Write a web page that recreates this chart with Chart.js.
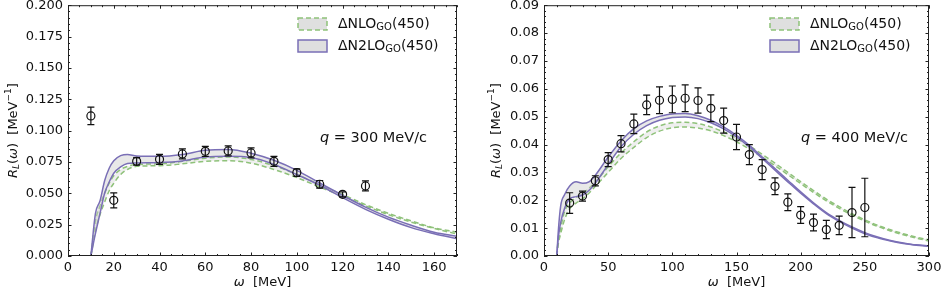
<!DOCTYPE html>
<html>
<head>
<meta charset="utf-8">
<script src="https://cdn.jsdelivr.net/npm/chart.js@4.4.1/dist/chart.umd.min.js"></script>
<style>
  body { margin: 0; background: #fff; }
  #wrap { display: flex; width: 941px; height: 293px; }
  canvas { display: block; }
</style>
</head>
<body>
<div id="wrap">
  <canvas id="left" width="470" height="293"></canvas>
  <canvas id="right" width="471" height="293"></canvas>
</div>
<script>
// ---- q = 300 MeV/c panel ----
var leftOmega = [10, 20, 30, 40, 50, 60, 70, 80, 90, 100, 110, 120, 130];
var leftRL = [0.1117, 0.0444, 0.0755, 0.0771, 0.0814, 0.0835, 0.0838, 0.0822, 0.0755, 0.0665, 0.0572, 0.0492, 0.0559];
var leftErr = [0.007, 0.006, 0.003, 0.004, 0.004, 0.004, 0.004, 0.004, 0.004, 0.003, 0.003, 0.002, 0.004];
var leftXTicks = [0, 20, 40, 60, 80, 100, 120, 140, 160];

var leftCurveX = [10, 12, 14, 16, 18, 20, 23, 26, 30, 40, 50, 60, 70, 80, 90, 100, 110, 120, 130, 140, 150, 160, 170];
var leftN2loUp = [0, 0.034, 0.044, 0.060, 0.070, 0.076, 0.080, 0.081, 0.0798, 0.0795, 0.081, 0.0843, 0.085, 0.082, 0.0763, 0.0683, 0.0582, 0.0484, 0.039, 0.031, 0.0245, 0.019, 0.0157];
var leftN2loLow = [0, 0.018, 0.034, 0.050, 0.059, 0.066, 0.071, 0.0737, 0.0742, 0.0745, 0.0758, 0.079, 0.0795, 0.0785, 0.073, 0.065, 0.0564, 0.0465, 0.0372, 0.0293, 0.0226, 0.0178, 0.0138];
var leftNloUp = [0, 0.028, 0.040, 0.050, 0.058, 0.064, 0.069, 0.0715, 0.073, 0.0735, 0.0755, 0.078, 0.079, 0.077, 0.072, 0.065, 0.057, 0.049, 0.041, 0.034, 0.028, 0.0225, 0.019];
var leftNloLow = [0, 0.020, 0.033, 0.043, 0.052, 0.058, 0.065, 0.069, 0.0715, 0.072, 0.0735, 0.0755, 0.076, 0.074, 0.069, 0.0625, 0.055, 0.0475, 0.040, 0.033, 0.027, 0.022, 0.0175];

// ---- q = 400 MeV/c panel ----
var rightOmega = [20, 30, 40, 50, 60, 70, 80, 90, 100, 110, 120, 130, 140, 150, 160, 170, 180, 190, 200, 210, 220, 230, 240, 250];
var rightRL = [0.019, 0.0215, 0.027, 0.0346, 0.0403, 0.0474, 0.0542, 0.0559, 0.0562, 0.0566, 0.0558, 0.053, 0.0486, 0.0427, 0.0364, 0.031, 0.025, 0.0193, 0.0147, 0.012, 0.0095, 0.011, 0.0156, 0.0174];
var rightErr = [0.0037, 0.0018, 0.0018, 0.0025, 0.0029, 0.0035, 0.0035, 0.0048, 0.0048, 0.0048, 0.0045, 0.0048, 0.0045, 0.0045, 0.0036, 0.0036, 0.003, 0.003, 0.003, 0.003, 0.0033, 0.0033, 0.009, 0.0105];
var rightXTicks = [0, 50, 100, 150, 200, 250, 300];

var rightCurveX = [10, 11, 13, 16, 20, 25, 30, 35, 40, 50, 60, 70, 80, 90, 100, 110, 120, 130, 140, 150, 160, 170, 180, 190, 200, 210, 220, 230, 240, 250, 260, 270, 280, 290, 300];
var rightN2loUp = [0, 0.008, 0.018, 0.022, 0.0251, 0.0266, 0.0261, 0.0266, 0.029, 0.0355, 0.0413, 0.0457, 0.0485, 0.0501, 0.051, 0.0511, 0.0503, 0.0487, 0.0463, 0.0433, 0.0397, 0.0355, 0.0314, 0.0272, 0.023, 0.0191, 0.0156, 0.0128, 0.0104, 0.0084, 0.0068, 0.0056, 0.0047, 0.004, 0.0037];
var rightN2loLow = [0, 0.006, 0.012, 0.017, 0.0205, 0.0213, 0.0219, 0.0235, 0.0262, 0.0328, 0.0392, 0.0437, 0.0468, 0.0487, 0.0497, 0.0499, 0.0493, 0.0478, 0.0456, 0.0427, 0.0391, 0.035, 0.0308, 0.0266, 0.0225, 0.0187, 0.0152, 0.0124, 0.0100, 0.008, 0.0065, 0.0054, 0.0045, 0.0039, 0.0035];
var rightNloUp = [0, 0.005, 0.010, 0.016, 0.019, 0.021, 0.0225, 0.0243, 0.0265, 0.032, 0.037, 0.041, 0.0445, 0.0467, 0.0478, 0.048, 0.0475, 0.0463, 0.0445, 0.0422, 0.0395, 0.0365, 0.0333, 0.030, 0.0267, 0.0235, 0.0204, 0.0177, 0.0152, 0.013, 0.011, 0.0094, 0.008, 0.0068, 0.0058];
var rightNloLow = [0, 0.004, 0.008, 0.013, 0.017, 0.019, 0.0205, 0.0225, 0.025, 0.030, 0.035, 0.039, 0.0425, 0.0448, 0.046, 0.0463, 0.0459, 0.0449, 0.0432, 0.041, 0.0384, 0.0355, 0.0324, 0.0292, 0.026, 0.0228, 0.0198, 0.0171, 0.0147, 0.0125, 0.0106, 0.009, 0.0076, 0.0064, 0.0054];

var legendNames = ['NLO', 'N2LO'];

var PURPLE = '#7a6fb6';
var GREEN = '#8fc27a';
var FONT = "'DejaVu Sans', sans-serif";

Chart.defaults.font.family = FONT;
Chart.defaults.font.size = 13;
Chart.defaults.color = '#111';

function pts(xs, ys) {
    return xs.map(function (x, i) { return { x: x, y: ys[i] }; });
}

function onStep(v, step) {
    return Math.abs(v / step - Math.round(v / step)) < 1e-6;
}

// draw a list of text runs (sub/superscripts, italics) starting at x
function drawRuns(ctx, runs, x, y, center) {
    var w = 0;
    runs.forEach(function (r) {
        ctx.font = (r.it ? 'italic ' : '') + (r.size || 13) + 'px ' + FONT;
        r.w = ctx.measureText(r.t).width;
        w += r.w;
    });
    var cx = center ? x - w / 2 : x;
    runs.forEach(function (r) {
        ctx.font = (r.it ? 'italic ' : '') + (r.size || 13) + 'px ' + FONT;
        ctx.fillText(r.t, cx, y + (r.dy || 0));
        cx += r.w;
    });
}

function decorPlugin(cfg) {
    return {
        id: 'decor',
        afterDatasetsDraw: function (chart) {
            var ctx = chart.ctx, xs = chart.scales.x, ys = chart.scales.y;
            ctx.save();
            ctx.strokeStyle = '#111';
            ctx.lineWidth = 1.2;
            cfg.omega.forEach(function (w, i) {
                var px = xs.getPixelForValue(w);
                var top = ys.getPixelForValue(cfg.rl[i] + cfg.err[i]);
                var bot = ys.getPixelForValue(cfg.rl[i] - cfg.err[i]);
                ctx.beginPath();
                ctx.moveTo(px, top); ctx.lineTo(px, bot);
                ctx.moveTo(px - 3.5, top); ctx.lineTo(px + 3.5, top);
                ctx.moveTo(px - 3.5, bot); ctx.lineTo(px + 3.5, bot);
                ctx.stroke();
            });
            ctx.restore();
        },
        afterDraw: function (chart) {
            var ctx = chart.ctx, a = chart.chartArea, xs = chart.scales.x, ys = chart.scales.y;
            ctx.save();
            // frame
            ctx.strokeStyle = '#222';
            ctx.lineWidth = 1;
            ctx.strokeRect(a.left + 0.5, a.top + 0.5, a.right - a.left - 1, a.bottom - a.top - 1);
            // inward ticks on all sides
            ctx.beginPath();
            var v, p, len;
            for (v = xs.min; v <= xs.max + 1e-9; v += cfg.xMinor) {
                p = Math.round(xs.getPixelForValue(v)) + 0.5;
                len = onStep(v, cfg.xMajor) ? 3.5 : 2;
                ctx.moveTo(p, a.bottom); ctx.lineTo(p, a.bottom - len);
                ctx.moveTo(p, a.top); ctx.lineTo(p, a.top + len);
            }
            for (v = ys.min; v <= ys.max + 1e-9; v += cfg.yMinor) {
                p = Math.round(ys.getPixelForValue(v)) + 0.5;
                len = onStep(v, cfg.yMajor) ? 3.5 : 2;
                ctx.moveTo(a.left, p); ctx.lineTo(a.left + len, p);
                ctx.moveTo(a.right, p); ctx.lineTo(a.right - len, p);
            }
            ctx.stroke();

            ctx.fillStyle = '#111';
            ctx.textBaseline = 'middle';
            // x title
            drawRuns(ctx, [{ t: 'ω', it: true }, { t: '  [MeV]' }], (a.left + a.right) / 2, 283, true);
            // y title
            ctx.save();
            ctx.translate(cfg.yTitleX, (a.top + a.bottom) / 2);
            ctx.rotate(-Math.PI / 2);
            drawRuns(ctx, [
                { t: 'R', it: true }, { t: 'L', it: true, size: 9, dy: 3 }, { t: '(' }, { t: 'ω', it: true },
                { t: ')  [MeV' }, { t: '−1', size: 9, dy: -5 }, { t: ']' }
            ], 0, 0, true);
            ctx.restore();

            // legend
            var lx = a.right - 159;
            [24, 46].forEach(function (cy, i) {
                ctx.fillStyle = 'rgba(210,210,210,0.7)';
                ctx.fillRect(lx, cy - 6, 29, 12);
                ctx.lineWidth = 1.5;
                if (i === 0) {
                    ctx.strokeStyle = GREEN;
                    ctx.setLineDash([5, 3]);
                } else {
                    ctx.strokeStyle = PURPLE;
                    ctx.setLineDash([]);
                }
                ctx.strokeRect(lx, cy - 6, 29, 12);
                ctx.setLineDash([]);
                ctx.fillStyle = '#111';
                drawRuns(ctx, [{ t: 'Δ' + legendNames[i], size: 14 }, { t: 'GO', size: 10, dy: 3 }, { t: '(450)', size: 14 }], lx + 40, cy, false);
            });

            // q label
            drawRuns(ctx, [{ t: 'q', it: true, size: 14.5 }, { t: ' = ' + cfg.q + ' MeV/c', size: 14.5 }], cfg.qX, 138, false);
            ctx.restore();
        }
    };
}

function makePanel(id, cfg) {
    var ctx = document.getElementById(id);
    new Chart(ctx, {
        type: 'line',
        data: {
            datasets: [
                {
                    type: 'scatter',
                    data: pts(cfg.omega, cfg.rl),
                    pointStyle: 'circle',
                    pointRadius: 4,
                    pointBorderWidth: 1.2,
                    pointBorderColor: '#111',
                    pointBackgroundColor: 'rgba(255,255,255,0)',
                    showLine: false
                },
                {
                    data: pts(cfg.cx, cfg.n2loLow),
                    borderColor: PURPLE, borderWidth: 1.5, pointRadius: 0,
                    cubicInterpolationMode: 'monotone', fill: false
                },
                {
                    data: pts(cfg.cx, cfg.n2loUp),
                    borderColor: PURPLE, borderWidth: 1.5, pointRadius: 0,
                    cubicInterpolationMode: 'monotone', fill: '-1', backgroundColor: 'rgba(200,200,200,0.42)'
                },
                {
                    data: pts(cfg.cx, cfg.nloLow),
                    borderColor: GREEN, borderWidth: 1.5, borderDash: [5, 3], pointRadius: 0,
                    cubicInterpolationMode: 'monotone', fill: false
                },
                {
                    data: pts(cfg.cx, cfg.nloUp),
                    borderColor: GREEN, borderWidth: 1.5, borderDash: [5, 3], pointRadius: 0,
                    cubicInterpolationMode: 'monotone', fill: '-1', backgroundColor: 'rgba(215,215,215,0.4)'
                }
            ]
        },
        options: {
            responsive: false,
            animation: false,
            layout: { padding: { top: 5, right: cfg.padRight, left: 0, bottom: 0 } },
            plugins: { legend: { display: false }, tooltip: { enabled: false } },
            scales: {
                x: {
                    type: 'linear', min: 0, max: cfg.xMax,
                    grid: { display: false, drawTicks: false },
                    border: { display: false },
                    ticks: { padding: 4, maxRotation: 0, autoSkip: false },
                    afterBuildTicks: function (s) {
                        s.ticks = cfg.xTicks.map(function (v) { return { value: v }; });
                    },
                    afterFit: function (s) { s.height = 37; s.paddingLeft = 0; s.paddingRight = 0; }
                },
                y: {
                    min: 0, max: cfg.yMax,
                    grid: { display: false, drawTicks: false },
                    border: { display: false },
                    ticks: {
                        stepSize: cfg.yMajor, padding: 5, autoSkip: false,
                        callback: function (v) { return v.toFixed(cfg.dec); }
                    },
                    afterFit: function (s) { s.width = cfg.yWidth; s.paddingTop = 0; s.paddingBottom = 0; }
                }
            }
        },
        plugins: [decorPlugin(cfg)]
    });
}

makePanel('left', {
    omega: leftOmega, rl: leftRL, err: leftErr, xTicks: leftXTicks,
    cx: leftCurveX, n2loUp: leftN2loUp, n2loLow: leftN2loLow, nloUp: leftNloUp, nloLow: leftNloLow,
    xMax: 170, xMajor: 20, xMinor: 5, yMax: 0.2, yMajor: 0.025, yMinor: 0.005, dec: 3,
    yWidth: 68, padRight: 13, yTitleX: 14, q: 300, qX: 320
});

makePanel('right', {
    omega: rightOmega, rl: rightRL, err: rightErr, xTicks: rightXTicks,
    cx: rightCurveX, n2loUp: rightN2loUp, n2loLow: rightN2loLow, nloUp: rightNloUp, nloLow: rightNloLow,
    xMax: 300, xMajor: 50, xMinor: 10, yMax: 0.09, yMajor: 0.01, yMinor: 0.002, dec: 2,
    yWidth: 74, padRight: 12, yTitleX: 27, q: 400, qX: 331
});
</script>
</body>
</html>
